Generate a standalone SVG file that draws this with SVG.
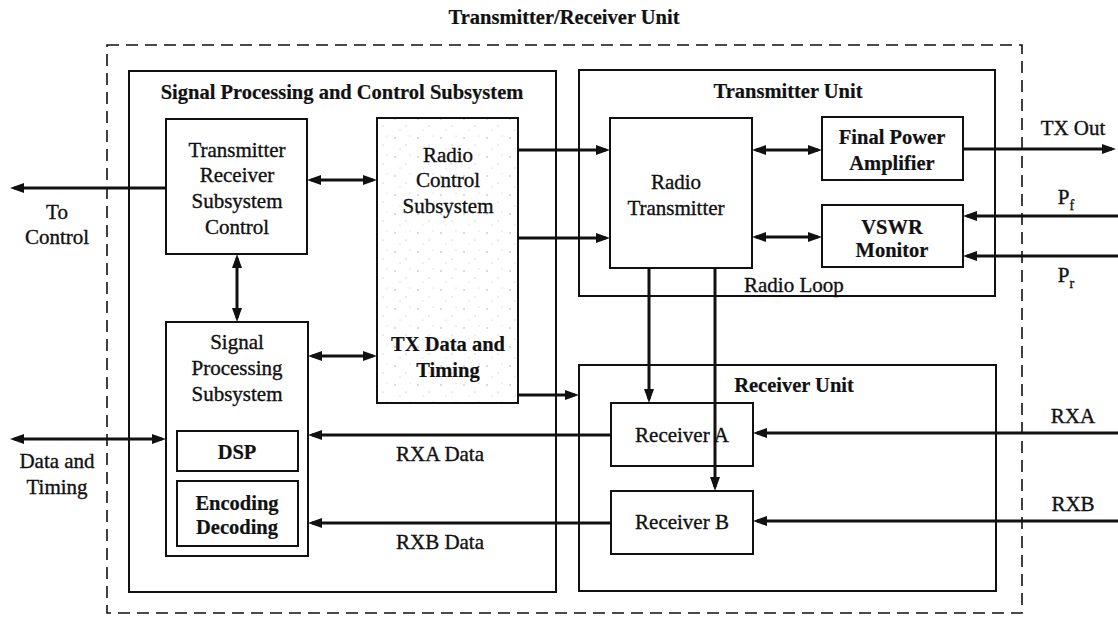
<svg xmlns="http://www.w3.org/2000/svg" width="1118" height="619" viewBox="0 0 1118 619">
  <style>
    .box { fill: #ffffff; stroke: #111111; stroke-width: 2; }
    .shade { fill: url(#speckle); stroke: #111111; stroke-width: 2; }
    .frame { fill: none; stroke: #111111; stroke-width: 1.6; stroke-dasharray: 12 7; }
    .wire { fill: none; stroke: #111111; stroke-width: 3; }
    .arrow { marker-end: url(#ah); }
    .both { marker-start: url(#ah); marker-end: url(#ah); }
    text { font-family: "Liberation Serif", "Times New Roman", serif; fill: #111111; stroke: #111111; stroke-width: 0.35; font-size: 21px; text-anchor: middle; }
    .b { font-weight: bold; font-size: 20.5px; stroke-width: 0.2; }
    .l { text-anchor: start; }
  </style>
  <defs>
    <marker id="ah" markerUnits="userSpaceOnUse" markerWidth="16" markerHeight="12" refX="10" refY="5" orient="auto-start-reverse">
      <path d="M0,0 L14,5 L0,10 z" fill="#111111"/>
    </marker>
    <!-- faint dot texture for the radio control block -->
    <pattern id="speckle" width="23" height="19" patternUnits="userSpaceOnUse">
      <rect width="23" height="19" fill="#ffffff"/>
      <circle cx="4" cy="5" r="0.7" fill="#9a9a9a"/>
      <circle cx="15" cy="12" r="0.6" fill="#a8a8a8"/>
      <circle cx="19" cy="3" r="0.5" fill="#b5b5b5"/>
      <circle cx="9" cy="16" r="0.5" fill="#b0b0b0"/>
    </pattern>
  </defs>

  <rect width="1118" height="619" fill="#ffffff"/>

  <!-- overall unit -->
  <g id="trx-unit">
    <rect class="frame" x="107" y="45" width="915" height="568"/>
    <text class="b" x="564" y="24">Transmitter/Receiver Unit</text>
  </g>

  <g id="spc-subsystem">
    <rect class="box" x="129" y="71" width="427" height="521"/>
    <text class="b" x="342" y="99">Signal Processing and Control Subsystem</text>
  </g>

  <g id="tx-unit">
    <rect class="box" x="579" y="70" width="416" height="226"/>
    <text class="b" x="788" y="98">Transmitter Unit</text>
    <text class="l" x="744" y="292">Radio Loop</text>
  </g>

  <g id="rx-unit">
    <rect class="box" x="579" y="365" width="417" height="226"/>
    <text class="b" x="794" y="392">Receiver Unit</text>
  </g>

  <g id="trsc">
    <rect class="box" x="166" y="119" width="141" height="135"/>
    <text x="237" y="157">Transmitter</text>
    <text x="237" y="182">Receiver</text>
    <text x="237" y="208">Subsystem</text>
    <text x="237" y="234">Control</text>
  </g>

  <g id="radio-control">
    <rect class="shade" x="377" y="118" width="141" height="285"/>
    <text x="448" y="162">Radio</text>
    <text x="448" y="187">Control</text>
    <text x="448" y="213">Subsystem</text>
    <text class="b" x="448" y="351">TX Data and</text>
    <text class="b" x="448" y="377">Timing</text>
  </g>

  <g id="sps">
    <rect class="box" x="166" y="322" width="142" height="234"/>
    <text x="237" y="349">Signal</text>
    <text x="237" y="375">Processing</text>
    <text x="237" y="401">Subsystem</text>
  </g>

  <g id="dsp">
    <rect class="box" x="177" y="431" width="121" height="40"/>
    <text class="b" x="237" y="459">DSP</text>
  </g>

  <g id="codec">
    <rect class="box" x="177" y="481" width="121" height="65"/>
    <text class="b" x="237" y="510">Encoding</text>
    <text class="b" x="237" y="534">Decoding</text>
  </g>

  <g id="radio-tx">
    <rect class="box" x="610" y="118" width="142" height="150"/>
    <text x="676" y="189">Radio</text>
    <text x="676" y="215">Transmitter</text>
  </g>

  <g id="fpa">
    <rect class="box" x="822" y="117" width="141" height="63"/>
    <text class="b" x="892" y="144">Final Power</text>
    <text class="b" x="892" y="170">Amplifier</text>
  </g>

  <g id="vswr">
    <rect class="box" x="822" y="205" width="141" height="62"/>
    <text class="b" x="892" y="234">VSWR</text>
    <text class="b" x="892" y="257">Monitor</text>
  </g>

  <g id="rx-a">
    <rect class="box" x="611" y="403" width="142" height="63"/>
    <text x="682" y="442">Receiver A</text>
  </g>

  <g id="rx-b">
    <rect class="box" x="611" y="491" width="142" height="63"/>
    <text x="682" y="529">Receiver B</text>
  </g>

  <!-- external labels -->
  <g id="labels">
    <text x="57" y="219">To</text>
    <text x="57" y="244">Control</text>
    <text x="57" y="468">Data and</text>
    <text x="57" y="494">Timing</text>
    <text x="1073" y="135">TX Out</text>
    <text x="1066" y="204">P<tspan font-size="14" dy="6">f</tspan></text>
    <text x="1066" y="282">P<tspan font-size="14" dy="6">r</tspan></text>
    <text x="1073" y="423">RXA</text>
    <text x="1073" y="511">RXB</text>
    <text x="440" y="461">RXA Data</text>
    <text x="440" y="549">RXB Data</text>
  </g>

  <g id="connectors">
    <line class="wire arrow" x1="166" y1="188" x2="14" y2="188"/>
    <line class="wire both" x1="311" y1="180" x2="373" y2="180"/>
    <line class="wire both" x1="237" y1="258" x2="237" y2="318"/>
    <line class="wire both" x1="312" y1="356" x2="373" y2="356"/>
    <line class="wire both" x1="14" y1="439" x2="162" y2="439"/>
    <line class="wire arrow" x1="518" y1="150" x2="606" y2="150"/>
    <line class="wire arrow" x1="518" y1="238" x2="606" y2="238"/>
    <line class="wire arrow" x1="518" y1="395" x2="575" y2="395"/>
    <line class="wire both" x1="756" y1="150" x2="818" y2="150"/>
    <line class="wire both" x1="756" y1="237" x2="818" y2="237"/>
    <line class="wire arrow" x1="963" y1="149" x2="1112" y2="149"/>
    <line class="wire arrow" x1="1118" y1="216" x2="967" y2="216"/>
    <line class="wire arrow" x1="1118" y1="256" x2="967" y2="256"/>
    <line class="wire arrow" x1="649" y1="268" x2="649" y2="399"/>
    <line class="wire arrow" x1="715" y1="268" x2="715" y2="487"/>
    <line class="wire arrow" x1="611" y1="435" x2="312" y2="435"/>
    <line class="wire arrow" x1="611" y1="523" x2="312" y2="523"/>
    <line class="wire arrow" x1="1118" y1="433" x2="757" y2="433"/>
    <line class="wire arrow" x1="1118" y1="521" x2="757" y2="521"/>
  </g>
</svg>
